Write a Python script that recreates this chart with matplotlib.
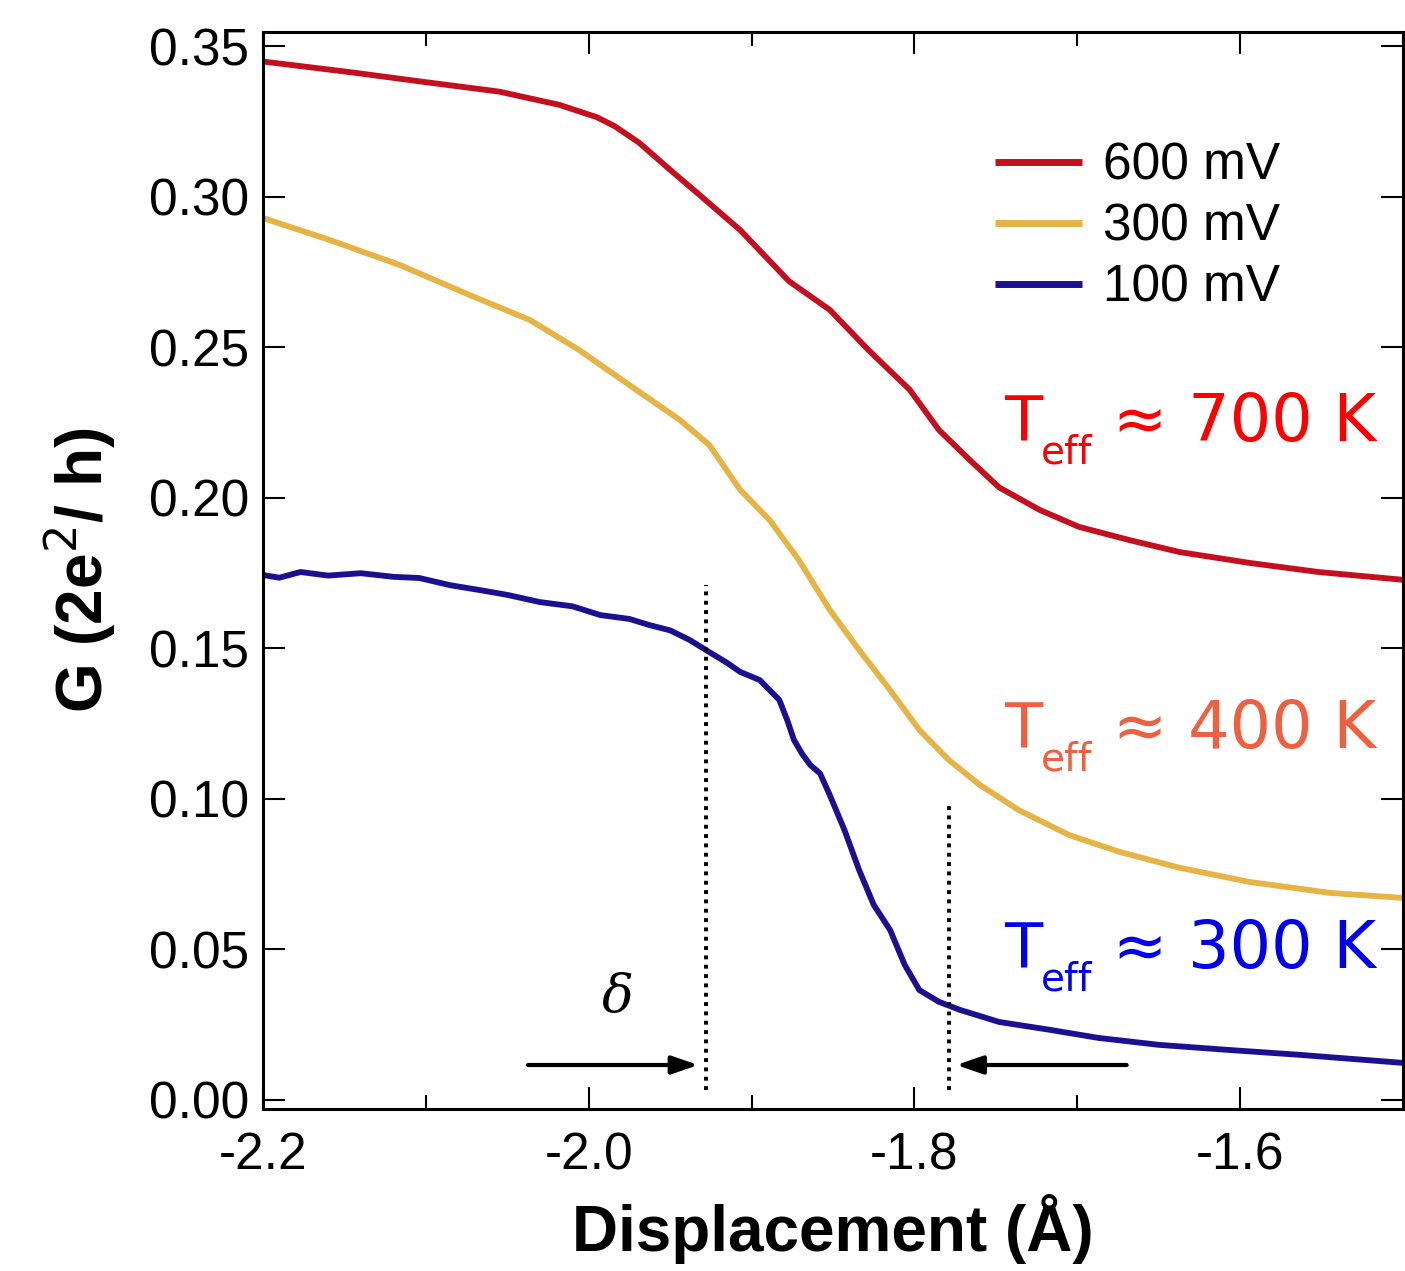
import matplotlib
matplotlib.use("Agg")
import matplotlib.pyplot as plt
from matplotlib.ticker import MultipleLocator

# kurve G(x) odčitane s slike
x_600 = [-2.2, -2.147, -2.098, -2.055, -2.018, -1.995, -1.984, -1.969, -1.95, -1.932, -1.907,
         -1.877, -1.852, -1.828, -1.803, -1.785, -1.766, -1.748, -1.723, -1.699, -1.668,
         -1.637, -1.594, -1.552, -1.5]
g_600 = [0.345, 0.3415, 0.338, 0.335, 0.3306, 0.3265, 0.3235, 0.318, 0.309, 0.3007, 0.289,
         0.272, 0.2625, 0.249, 0.236, 0.2226, 0.2126, 0.2035, 0.196, 0.1904, 0.186,
         0.182, 0.1784, 0.1754, 0.1728]

x_300 = [-2.2, -2.159, -2.116, -2.073, -2.036, -2.006, -1.975, -1.944, -1.926, -1.907,
         -1.889, -1.871, -1.852, -1.834, -1.815, -1.797, -1.779, -1.76, -1.736, -1.705,
         -1.674, -1.637, -1.594, -1.545, -1.5]
g_300 = [0.293, 0.2857, 0.2774, 0.2674, 0.2591, 0.2492, 0.2375, 0.2259, 0.2176, 0.2027,
         0.1927, 0.1794, 0.1628, 0.1495, 0.1362, 0.1229, 0.113, 0.1047, 0.0963, 0.088,
         0.0824, 0.0771, 0.0724, 0.0688, 0.0671]

x_100 = [-2.2, -2.19, -2.177, -2.16, -2.14, -2.12, -2.104, -2.085, -2.067, -2.05, -2.03,
         -2.01, -1.993, -1.975, -1.963, -1.95, -1.938, -1.926, -1.915, -1.907, -1.895,
         -1.883, -1.878, -1.874, -1.869, -1.864, -1.858, -1.852, -1.843, -1.834, -1.825,
         -1.815, -1.806, -1.797, -1.785, -1.772, -1.748, -1.717, -1.687, -1.65, -1.607,
         -1.564, -1.5]
g_100 = [0.1744, 0.1735, 0.1754, 0.1742, 0.175, 0.1738, 0.1734, 0.171, 0.1694, 0.1678, 0.1654,
         0.1640, 0.1611, 0.1598, 0.1578, 0.1560, 0.1528, 0.1488, 0.1452, 0.1422, 0.1395,
         0.1329, 0.126, 0.1196, 0.1150, 0.1113, 0.1085, 0.1013, 0.0897, 0.0764, 0.0648,
         0.0565, 0.0449, 0.0365, 0.0326, 0.0299, 0.0259, 0.0233, 0.0206, 0.0183, 0.0166,
         0.015, 0.0123]

serije = [("600 mV", x_600, g_600, "#c4101e"),
          ("300 mV", x_300, g_300, "#e6b445"),
          ("100 mV", x_100, g_100, "#1b1190")]

# oznake temperatur
teff_besedila = ["700 K", "400 K", "300 K"]
teff_y = [0.219, 0.117, 0.0439]
teff_barve = ["#ff0000", "#ee6040", "#0000ee"]

# delta: navpične črte in puščici
delta_x = [-1.928, -1.779]
delta_vrh = [0.171, 0.098]

plt.rcParams['font.family'] = ['Liberation Sans', 'DejaVu Sans']
plt.rcParams['mathtext.fontset'] = 'dejavusans'

fig = plt.figure(figsize=(14.05, 12.71), dpi=100)
ax = fig.add_axes([0.1872, 0.1275, 0.8114, 0.8473])

for ime, xs, gs, barva in serije:
    ax.plot(xs, gs, color=barva, lw=4.2, label=ime, solid_capstyle='butt')

ax.set_xlim(-2.2, -1.5)
ax.set_ylim(-0.003, 0.3548)
ax.xaxis.set_major_locator(MultipleLocator(0.2))
ax.xaxis.set_minor_locator(MultipleLocator(0.1))
ax.yaxis.set_major_locator(MultipleLocator(0.05))
ax.xaxis.set_major_formatter(plt.FuncFormatter(lambda v, p: '%.1f' % v))
ax.yaxis.set_major_formatter(plt.FuncFormatter(lambda v, p: '%.2f' % v))
ax.tick_params(which='both', direction='in', top=True, right=True, width=1.5)
ax.tick_params(which='major', length=16, labelsize=37, pad=10)
ax.tick_params(axis='x', which='major', pad=16)
ax.tick_params(which='minor', length=10)
for s in ax.spines.values():
    s.set_linewidth(2.2)

ax.set_xlabel("Displacement (Å)", fontsize=46, fontweight='bold', labelpad=10)
ax.set_ylabel("G (2e$^{2}$/ h)", fontsize=46, fontweight='bold', labelpad=22)

leg = ax.legend(loc='upper left', bbox_to_anchor=(0.642, 0.898), frameon=False,
                fontsize=37, borderpad=0, borderaxespad=0, handlelength=1.7,
                handletextpad=0.4, labelspacing=0.23)
for h in leg.get_lines():
    h.set_linewidth(5)

for besedilo, yy, barva in zip(teff_besedila, teff_y, teff_barve):
    ax.text(-1.745, yy, "T", color=barva, fontsize=45, family='DejaVu Sans', va='baseline')
    ax.annotate("eff", xy=(-1.745, yy), xytext=(26.5, -16.5), textcoords='offset points',
                color=barva, fontsize=28, family='DejaVu Sans', va='baseline')
    ax.annotate(" ≈ " + besedilo, xy=(-1.745, yy), xytext=(63, 0), textcoords='offset points',
                color=barva, fontsize=47, family='DejaVu Sans', va='baseline')

for xx, vrh in zip(delta_x, delta_vrh):
    ax.plot([xx, xx], [0.0033, vrh], color='black', lw=2.8, linestyle=(0, (1.0, 1.4)))

ax.annotate("", xy=(delta_x[0] - 0.003, 0.0116), xytext=(-2.039, 0.0116),
            arrowprops=dict(arrowstyle='-|>,head_length=1.6,head_width=0.55', color='black', lw=3))
ax.annotate("", xy=(delta_x[1] + 0.003, 0.0116), xytext=(-1.668, 0.0116),
            arrowprops=dict(arrowstyle='-|>,head_length=1.6,head_width=0.55', color='black', lw=3))
ax.text(-1.982, 0.034, "δ", fontsize=38, family='DejaVu Serif', style='italic',
        ha='center', va='center')

fig.savefig("out.png", dpi=100)
